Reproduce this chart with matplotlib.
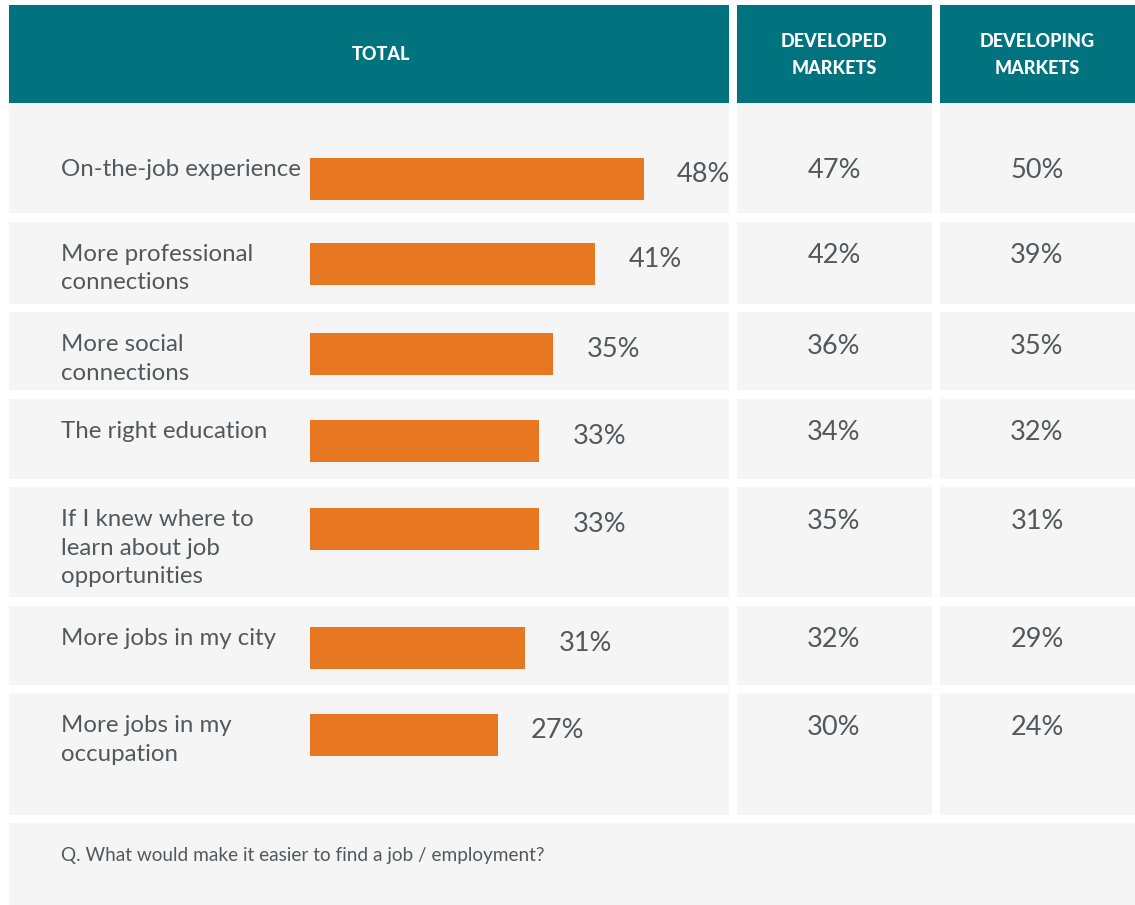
import matplotlib.pyplot as plt
from matplotlib.patches import Rectangle

# data
labels = ["On-the-job experience", "More professional\nconnections", "More social\nconnections",
          "The right education", "If I knew where to\nlearn about job\nopportunities",
          "More jobs in my city", "More jobs in my\noccupation"]
total = [48, 41, 35, 33, 33, 31, 27]
developed = [47, 42, 36, 34, 35, 32, 30]
developing = [50, 39, 35, 32, 31, 29, 24]
headers = ["TOTAL", "DEVELOPED\nMARKETS", "DEVELOPING\nMARKETS"]
question = "Q. What would make it easier to find a job / employment?"

# layout (pixels)
W, H = 1135, 905
row_heights = [110, 82, 78, 80, 110, 79, 122]
gap = 8.5
cols = [(9, 729), (737, 932), (940, 1135)]
head_x = [381, 834, 1037]
header_top, header_bottom = 5, 103
bar_left = 310
px_per_pct = 6.95
bar_h = 42

teal = "#00737f"
orange = "#e87722"
panel = "#f5f5f5"
txt = "#555759"
plt.rcParams["font.family"] = ["Lato", "DejaVu Sans"]

fig = plt.figure(figsize=(W / 100, H / 100), dpi=100)
bg = fig.add_axes([0, 0, 1, 1])
bg.set_xlim(0, W)
bg.set_ylim(H, 0)
bg.axis("off")

# header
for (x0, x1), hx, head in zip(cols, head_x, headers):
    bg.add_patch(Rectangle((x0, header_top), x1 - x0, header_bottom - header_top, color=teal, lw=0))
    bg.text(hx, (header_top + header_bottom) / 2 + 1, head, color="white", fontsize=13,
            fontweight=900, ha="center", va="center", linespacing=1.7)

# rows
row_tops = []
y = header_bottom
for i, rh in enumerate(row_heights):
    row_tops.append(y)
    for x0, x1 in cols:
        bg.add_patch(Rectangle((x0, y), x1 - x0, rh, color=panel, lw=0))
    y += rh + gap
footer_top = y - gap + 8
bg.add_patch(Rectangle((9, footer_top), W - 9, H - footer_top, color=panel, lw=0))
bg.text(61, footer_top + 32, question, color=txt, fontsize=13.7, ha="left", va="center")

bar_centers = []
for i, top in enumerate(row_tops):
    bar_top = top + (55 if i == 0 else 21)
    bar_centers.append(bar_top + bar_h / 2)
    bg.text(61, bar_top + 1, labels[i], color=txt, fontsize=17.3, ha="left", va="top", linespacing=1.45)
    bg.text(834, bar_top + bar_h / 2 - 8, f"{developed[i]}%", color=txt, fontsize=19.5, ha="center", va="center")
    bg.text(1037, bar_top + bar_h / 2 - 8, f"{developing[i]}%", color=txt, fontsize=19.5, ha="center", va="center")

# bars in percent units
bx = fig.add_axes([bar_left / W, 0, (729 - bar_left) / W, 1])
bx.set_xlim(0, (729 - bar_left) / px_per_pct)
bx.set_ylim(H, 0)
bx.axis("off")
bx.barh(bar_centers, total, height=bar_h, color=orange, left=0)
for yc, v in zip(bar_centers, total):
    bx.annotate(f"{v}%", xy=(v, yc), xytext=(24, 3), textcoords="offset points",
                color=txt, fontsize=19.5, ha="left", va="center")

fig.savefig("out.png", dpi=100)
